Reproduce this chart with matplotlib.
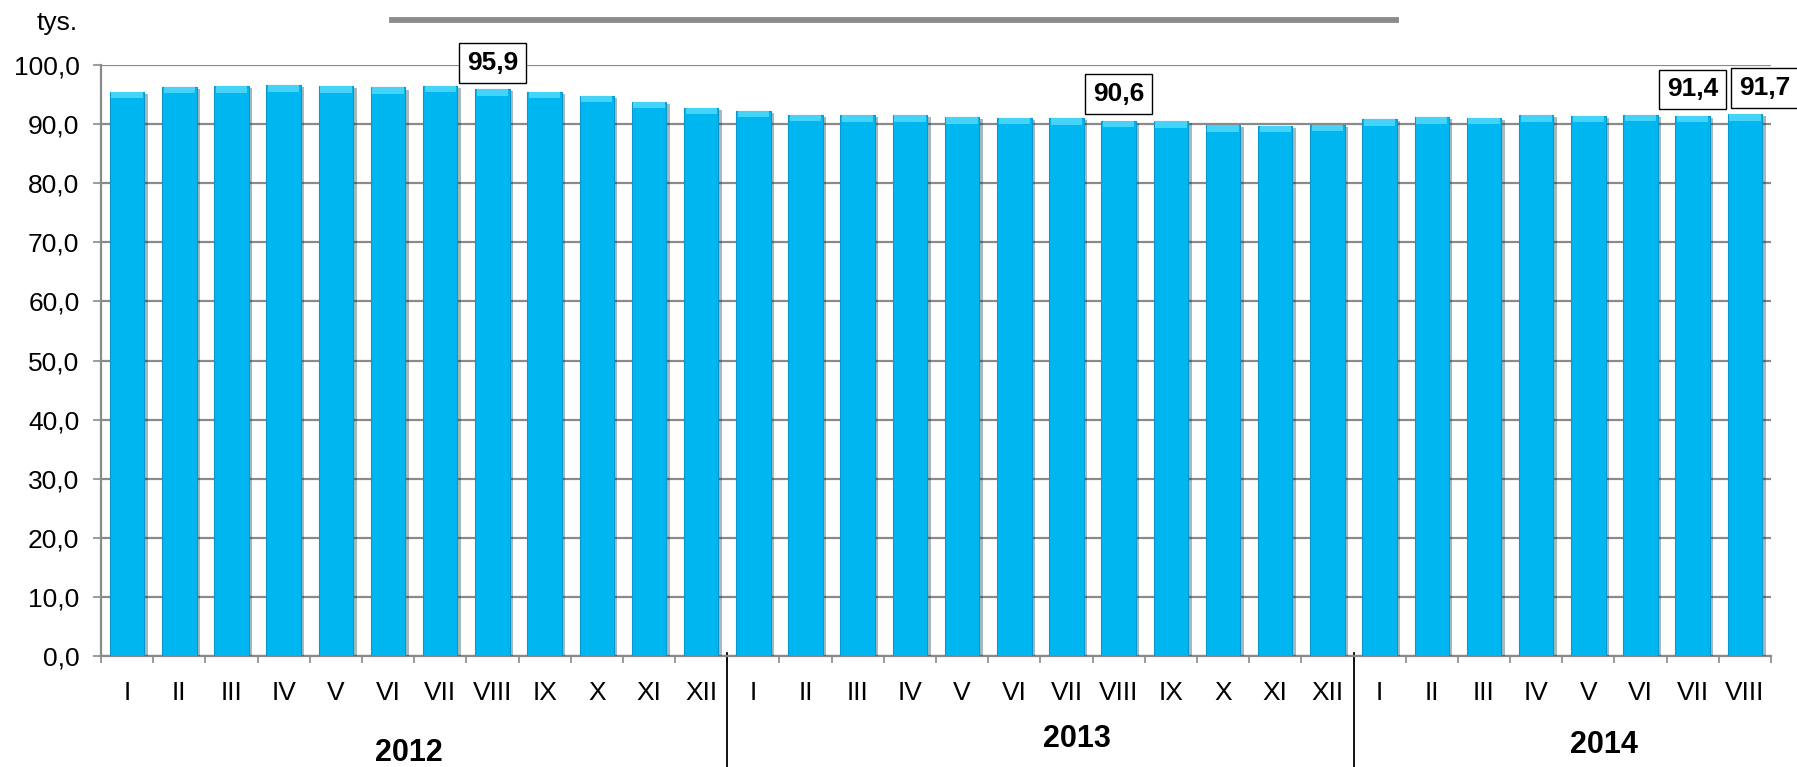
import matplotlib
matplotlib.use("Agg")
import matplotlib.pyplot as plt
import matplotlib.patheffects as pe
from matplotlib.lines import Line2D

plt.rcParams['font.family'] = ['Liberation Sans', 'DejaVu Sans']

# data (thousands)
months = ["I", "II", "III", "IV", "V", "VI", "VII", "VIII", "IX", "X", "XI", "XII",
          "I", "II", "III", "IV", "V", "VI", "VII", "VIII", "IX", "X", "XI", "XII",
          "I", "II", "III", "IV", "V", "VI", "VII", "VIII"]
values = [95.5, 96.3, 96.4, 96.6, 96.4, 96.2, 96.5, 95.9, 95.5, 94.8, 93.8, 92.8,
          92.3, 91.6, 91.5, 91.5, 91.2, 91.1, 91.0, 90.6, 90.5, 89.8, 89.7, 89.9,
          90.8, 91.2, 91.1, 91.5, 91.4, 91.6, 91.4, 91.7]
years = ["2012", "2013", "2014"]
labelled = [7, 19, 30, 31]   # bars with boxed value labels
label_dx = [0, 0, 0, 14]     # horizontal nudge (points) so boxes don't overlap

W, H = 1797, 767
fig = plt.figure(figsize=(W / 100, H / 100), dpi=100)
ax = fig.add_axes([101 / W, 1 - 656 / H, (1771 - 101) / W, (656 - 65) / H])

x = list(range(len(values)))
bars = ax.bar(x, values, width=0.66, color="#00B6F0", edgecolor="#0A97CC",
              linewidth=0.8, zorder=3)
for b in bars:
    b.set_path_effects([pe.SimplePatchShadow(offset=(2.5, -1.5), alpha=0.35),
                        pe.Normal()])
# lighter bevel on the top of each bar
cap = 1.1
ax.bar(x, [cap] * len(values), bottom=[v - cap for v in values], width=0.6,
       color="#45D4F7", linewidth=0, zorder=4)

ax.set_xlim(-0.5, len(values) - 0.5)
ax.set_ylim(0, 100)
ax.set_yticks([i * 10 for i in range(11)])
ax.set_yticklabels([f"{i * 10},0" for i in range(11)])
ax.yaxis.grid(True, color="#8A8A8A", linewidth=1.6, zorder=0)
ax.set_axisbelow(True)

ax.set_xticks(x)
ax.set_xticklabels(months)
ax.set_xticks([i - 0.5 for i in range(len(values) + 1)], minor=True)
ax.tick_params(axis="x", which="major", length=0, pad=18, labelsize=19)
ax.tick_params(axis="x", which="minor", length=5, color="#8A8A8A", width=1.2)
ax.tick_params(axis="y", length=5.5, color="#8A8A8A", width=1.2, pad=10, labelsize=19)

for s in ["top", "right"]:
    ax.spines[s].set_visible(False)
for s in ["left", "bottom"]:
    ax.spines[s].set_color("#8A8A8A")
    ax.spines[s].set_linewidth(1.6)

# boxed value labels
for i, dx in zip(labelled, label_dx):
    ax.annotate(f"{values[i]:.1f}".replace(".", ","), xy=(i, values[i]),
                xytext=(dx, 19), textcoords="offset points", ha="center", va="center",
                fontsize=19, fontweight="bold", annotation_clip=False, zorder=6,
                bbox=dict(boxstyle="square,pad=0.3", fc="white", ec="black", lw=1))

# year separators and year labels
for xs in [11.5, 23.5]:
    ax.axvline(xs, ymin=-0.19, ymax=0.005, color="black", lw=1.3, clip_on=False)
year_x = [5.4, 18.2, 28.3]
year_y = [753, 739, 745]
for yr, xx, yy in zip(years, year_x, year_y):
    ax.text(xx, -(yy - 656) / (656 - 65), yr, transform=ax.get_xaxis_transform(),
            ha="center", va="center", fontsize=22, fontweight="bold")

fig.text(57 / W, 1 - 23 / H, "tys.", ha="center", va="center", fontsize=19)
fig.add_artist(Line2D([392 / W, 1396 / W], [1 - 19.5 / H, 1 - 19.5 / H],
                      color="#8C8C8C", lw=4.2, transform=fig.transFigure))

fig.savefig("out.png", dpi=100)
